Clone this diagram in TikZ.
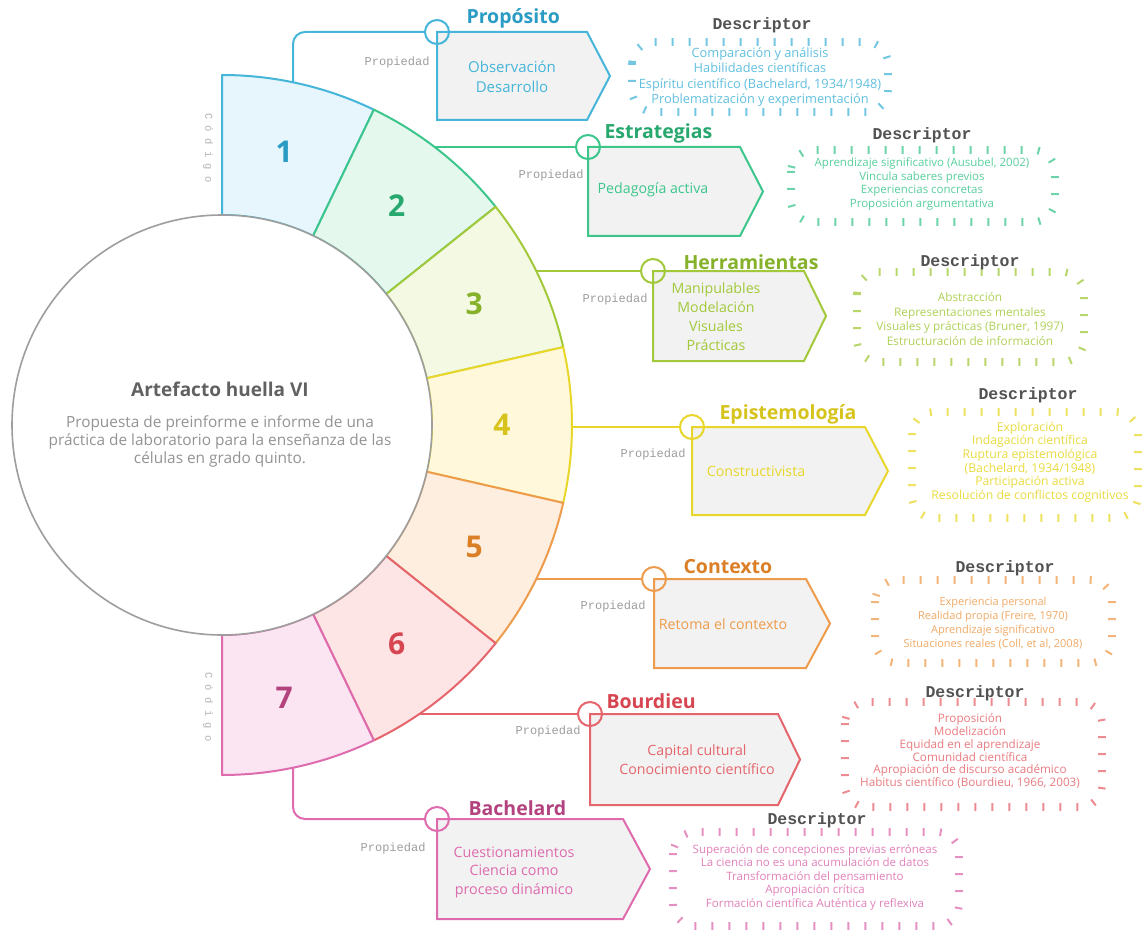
\documentclass[tikz,border=0pt]{standalone}
\usepackage{fontspec}
\setmainfont{Open Sans}
\newfontfamily\monof{Liberation Mono}
\usetikzlibrary{calc,decorations.pathreplacing}
\definecolor{cA}{HTML}{45B5D9}\definecolor{fA}{HTML}{E6F6FC}\definecolor{nA}{HTML}{2A9CC4}
\definecolor{cB}{HTML}{3CC68C}\definecolor{fB}{HTML}{E4F8ED}\definecolor{nB}{HTML}{27A86E}
\definecolor{cC}{HTML}{A2C93A}\definecolor{fC}{HTML}{F3F9E2}\definecolor{nC}{HTML}{86B12A}
\definecolor{cD}{HTML}{E8D72A}\definecolor{fD}{HTML}{FFF8DB}\definecolor{nD}{HTML}{D6C31B}
\definecolor{cE}{HTML}{EE9B4B}\definecolor{fE}{HTML}{FEEEE0}\definecolor{nE}{HTML}{DB7F27}
\definecolor{cF}{HTML}{E5656C}\definecolor{fF}{HTML}{FDE5E6}\definecolor{nF}{HTML}{D64550}
\definecolor{cG}{HTML}{DD6BAE}\definecolor{fG}{HTML}{FCE5F2}\definecolor{nG}{HTML}{B3437F}
\definecolor{boxfill}{HTML}{F2F2F2}
\newcommand\pentbox[6]{% color, x, y, W, H, T
  \draw[boxsty, draw=#1] (#2,#3) -- ++(#4,0) -- ++(#6,-#5/2) -- ++(-#6,-#5/2) -- ++(-#4,0) -- cycle;}
\newcommand\dfs[2]{\fontsize{#1}{#2}\selectfont}
\begin{document}
\begin{tikzpicture}[x=1pt,y=1pt,
  segsty/.style={line width=2pt, line join=round},
  num/.style={font=\fontsize{30}{32}\selectfont\bfseries},
  conn/.style={line width=2pt, rounded corners=12pt},
  kcirc/.style={circle, minimum size=24pt, inner sep=0pt, line width=2pt},
  boxsty/.style={line width=2pt, fill=boxfill, line join=miter},
  btext/.style={align=center, font=\fontsize{14.2}{19}\selectfont},
  ttl/.style={anchor=west, font=\fontsize{19.5}{21}\selectfont\bfseries},
  prop/.style={anchor=east, font=\monof\fontsize{12}{13}\selectfont, text=black!38},
  desc/.style={font=\monof\bfseries\fontsize{16.5}{18}\selectfont, text=black!68},
  ticksty/.style={line width=2pt, rounded corners=22pt, decorate,
     decoration={ticks, segment length=17pt, amplitude=3.8pt}},
  dtext/.style={align=center},
  codigo/.style={rotate=-90, font=\monof\fontsize{10.5}{12}\selectfont, text=black!30}]
\useasboundingbox (0,0) rectangle (1143,-936);
\fill[white] (0,0) rectangle (1143,-936);
\coordinate (c) at (222,-425);
% ring segments
\foreach \i/\cs/\cf/\cn in {1/cA/fA/nA,2/cB/fB/nB,3/cC/fC/nC,4/cD/fD/nD,5/cE/fE/nE,6/cF/fF/nF,7/cG/fG/nG}{
  \pgfmathsetmacro\angA{90-(\i-1)*180/7}
  \pgfmathsetmacro\angB{90-\i*180/7}
  \pgfmathsetmacro\angM{90-(\i-0.5)*180/7}
  \draw[segsty, draw=\cs, fill=\cf] ($(c)+(\angA:210)$) -- ($(c)+(\angA:350)$)
     arc[start angle=\angA, end angle=\angB, radius=350] -- ($(c)+(\angB:210)$)
     arc[start angle=\angB, end angle=\angA, radius=210] -- cycle;
  \node[num, text=\cn] (n\i) at ($(c)+(\angM:280)$) {\i};
}
% central circle
\node[circle, draw=black!38, fill=white, line width=1.6pt, minimum size=420pt, inner sep=0pt] (main) at (c) {};
\node[text=black!62, font=\fontsize{19}{22}\selectfont\bfseries] (mt) at (220,-389) {Artefacto huella VI};
\node[text=black!42, align=center, font=\fontsize{15.4}{18}\selectfont] (ms) at (220,-441)
  {Propuesta de preinforme e informe de una\\práctica de laboratorio para la enseñanza de las\\células en grado quinto.};
% código labels
\node[codigo] (g1) at (208,-148) {C ó d i g o};
\node[codigo] (g7) at (208,-707) {C ó d i g o};
% connector start points
\coordinate (p1) at (293,-82.3);
\coordinate (p2) at (434.6,-147);
\coordinate (p3) at (536.3,-271);
\coordinate (p4) at (572,-427);
\coordinate (p5) at (536.3,-579);
\coordinate (p6) at (419.4,-714);
\coordinate (p7) at (293,-767.7);
% boxes
\pentbox{cA}{437}{-32}{150}{88}{23}
\pentbox{cB}{588}{-147}{152}{89}{23}
\pentbox{cC}{653}{-271}{151}{90}{22}
\pentbox{cD}{692}{-427}{173}{88}{23}
\pentbox{cE}{654}{-579}{152}{89}{24}
\pentbox{cF}{590}{-714}{188}{91}{22}
\pentbox{cG}{437}{-819}{186}{100}{27}
% small circles
\node[kcirc, draw=cA] (k1) at (437,-32) {};
\node[kcirc, draw=cB] (k2) at (588,-147) {};
\node[kcirc, draw=cC] (k3) at (653,-271) {};
\node[kcirc, draw=cD] (k4) at (692,-427) {};
\node[kcirc, draw=cE] (k5) at (654,-579) {};
\node[kcirc, draw=cF] (k6) at (590,-714) {};
\node[kcirc, draw=cG] (k7) at (437,-819) {};
% connectors
\draw[conn, cA] (p1) |- (k1);
\draw[conn, cB] (p2) -- (k2);
\draw[conn, cC] (p3) -- (k3);
\draw[conn, cD] (p4) -- (k4);
\draw[conn, cE] (p5) -- (k5);
\draw[conn, cF] (p6) -- (k6);
\draw[conn, cG] (p7) |- (k7);
% titles
\node[ttl, text=nA] (h1) at (463,-18) {Propósito};
\node[ttl, text=nB] (h2) at (601,-133) {Estrategias};
\node[ttl, text=nC] (h3) at (680,-262) {Herramientas};
\node[ttl, text=nD] (h4) at (716,-414) {Epistemología};
\node[ttl, text=nE] (h5) at (680,-567) {Contexto};
\node[ttl, text=nF] (h6) at (603,-701) {Bourdieu};
\node[ttl, text=nG] (h7) at (465,-808) {Bachelard};
% propiedad
\node[prop] (q1) at (433,-62) {Propiedad};
\node[prop] (q2) at (587,-175) {Propiedad};
\node[prop] (q3) at (651,-299) {Propiedad};
\node[prop] (q4) at (689,-454) {Propiedad};
\node[prop] (q5) at (649,-606) {Propiedad};
\node[prop] (q6) at (584,-731) {Propiedad};
\node[prop] (q7) at (429,-848) {Propiedad};
% box texts
\node[btext, font=\dfs{15}{20}, text=cA] (t1) at (512,-77) {Observación\\Desarrollo};
\node[btext, text=cB] (t2) at (653,-190) {Pedagogía activa};
\node[btext, text=cC] (t3) at (716,-317) {Manipulables\\Modelación\\Visuales\\Prácticas};
\node[btext, text=cD] (t4) at (756,-471) {Constructivista};
\node[btext, text=cE] (t5) at (723,-624) {Retoma el contexto};
\node[btext, text=cF] (t6) at (697,-760) {Capital cultural\\Conocimiento científico};
\node[btext, font=\dfs{14.3}{18.5}, text=cG] (t7) at (514,-872) {Cuestionamientos\\Ciencia como\\proceso dinámico};
% descriptor frames
\draw[ticksty, cA!75!white] (632,-42) rectangle (888,-112);
\draw[ticksty, cB!75!white] (791,-150) rectangle (1055,-222);
\draw[ticksty, cC!75!white] (857,-272) rectangle (1084,-362);
\draw[ticksty, cD!75!white] (912,-412) rectangle (1138,-518);
\draw[ticksty, cE!75!white] (875,-580) rectangle (1112,-663);
\draw[ticksty, cF!75!white] (845,-702) rectangle (1102,-807);
\draw[ticksty, cG!75!white] (673,-832) rectangle (959,-926);
% descriptor labels
\node[desc] (d1) at (762,-25) {Descriptor};
\node[desc] (d2) at (922,-135) {Descriptor};
\node[desc] (d3) at (970,-262) {Descriptor};
\node[desc] (d4) at (1028,-395) {Descriptor};
\node[desc] (d5) at (1005,-568) {Descriptor};
\node[desc] (d6) at (975,-693) {Descriptor};
\node[desc] (d7) at (817,-820) {Descriptor};
% descriptor texts
\node[dtext, font=\dfs{12.8}{15.3}, text=cA!85!white] (e1) at (760,-77) {Comparación y análisis\\Habilidades científicas\\Espíritu científico (Bachelard, 1934/1948)\\Problematización y experimentación};
\node[dtext, font=\dfs{11.5}{13.6}, text=cB!85!white] (e2) at (922,-184) {Aprendizaje significativo (Ausubel, 2002)\\Vincula saberes previos\\Experiencias concretas\\Proposición argumentativa};
\node[dtext, font=\dfs{11.8}{14.6}, text=cC!85!white] (e3) at (970,-319) {Abstracción\\Representaciones mentales\\Visuales y prácticas (Bruner, 1997)\\Estructuración de información};
\node[dtext, font=\dfs{12.2}{13.6}, text=cD!90!white] (e4) at (1030,-462) {Exploración\\Indagación científica\\Ruptura epistemológica\\(Bachelard, 1934/1948)\\Participación activa\\Resolución de conflictos cognitivos};
\node[dtext, font=\dfs{11}{13.8}, text=cE!85!white] (e5) at (993,-623) {Experiencia personal\\Realidad propia (Freire, 1970)\\Aprendizaje significativo\\Situaciones reales (Coll, et al, 2008)};
\node[dtext, font=\dfs{11.7}{12.9}, text=cF!85!white] (e6) at (970,-751) {Proposición\\Modelización\\Equidad en el aprendizaje\\Comunidad científica\\Apropiación de discurso académico\\Habitus científico (Bourdieu, 1966, 2003)};
\node[dtext, font=\dfs{11.5}{13.5}, text=cG!85!white] (e7) at (815,-877) {Superación de concepciones previas erróneas\\La ciencia no es una acumulación de datos\\Transformación del pensamiento\\Apropiación crítica\\Formación científica Auténtica y reflexiva};
\end{tikzpicture}
\end{document}
